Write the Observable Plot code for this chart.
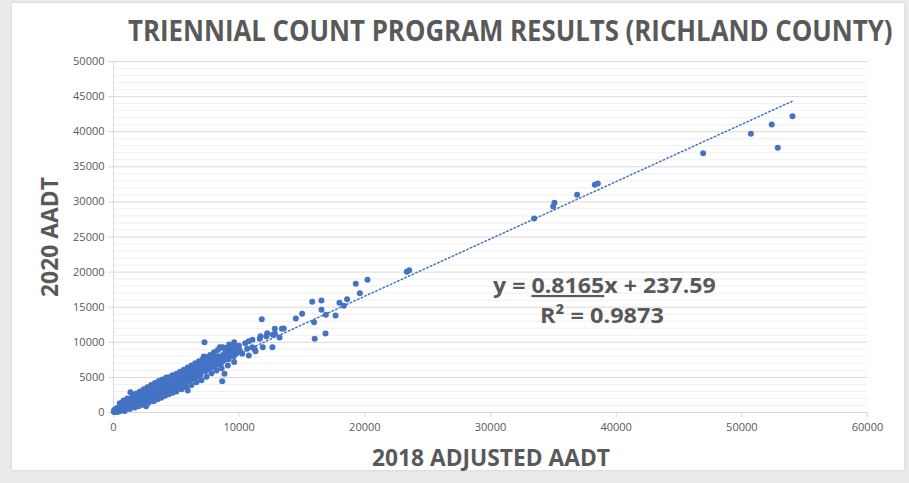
<!DOCTYPE html>
<html>
<head>
<meta charset="utf-8">
<script src="https://cdn.jsdelivr.net/npm/d3@7"></script>
<script src="https://cdn.jsdelivr.net/npm/@observablehq/plot@0.6"></script>
<style>
  html, body { margin: 0; padding: 0; width: 909px; height: 483px; overflow: hidden; background: #ebebeb; }
  #panel { position: absolute; left: 12px; top: 3px; width: 892px; height: 467px; background: #fff; box-shadow: 0 0 3px rgba(0,0,0,0.12); }
  #chart { position: absolute; left: 0; top: 0; }
  #overlay { position: absolute; left: 0; top: 0; pointer-events: none; }
  .bold { font-family: "Open Sans", "DejaVu Sans", sans-serif; font-weight: 700; fill: #595959; }
</style>
</head>
<body>
<div id="panel"></div>
<div id="chart"></div>
<svg id="overlay" width="909" height="483">
  <g id="gTitle"><text id="title" class="bold" font-size="29"></text></g>
  <g id="gY"><text id="ylabel" class="bold" font-size="24"></text></g>
  <g id="gX"><text id="xlabel" class="bold" font-size="24"></text></g>
  <g id="gEq1"><text id="eq1" class="bold" font-size="22"></text></g>
  <g id="gEq2"><text id="eq2" class="bold" font-size="22"></text></g>
</svg>
<script>
// ---- texts ----
const titleText = "TRIENNIAL COUNT PROGRAM RESULTS (RICHLAND COUNTY)";
const xTitle = "2018 ADJUSTED AADT";
const yTitle = "2020 AADT";
const slope = 0.8165;
const intercept = 237.59;
const rSquared = "0.9873";

// ---- tick labels ----
const xTicks = [0, 10000, 20000, 30000, 40000, 50000, 60000];
const yTicks = [0, 5000, 10000, 15000, 20000, 25000, 30000, 35000, 40000, 45000, 50000];
const yMinor = [1000,2000,3000,4000,6000,7000,8000,9000,11000,12000,13000,14000,16000,17000,18000,19000,21000,22000,23000,24000,26000,27000,28000,29000,31000,32000,33000,34000,36000,37000,38000,39000,41000,42000,43000,44000,46000,47000,48000,49000];

// ---- data: [2018 adjusted AADT, 2020 AADT] ----
const pointsLow0 = [[20,100],[60,350],[90,60],[120,250],[160,480],[200,150],[230,300],[270,620],[300,80],[340,400],[380,250],[420,700],[460,480],[500,180],[530,600],[570,900],[610,350],[650,720],[690,500],[730,1050],[770,640],[810,300],[850,880],[890,1200],[930,560],[970,950],[1010,1350],[1050,700],[1090,1000],[1130,1500],[1170,850],[1210,1200],[1250,1650],[1290,950],[1330,1300],[1350,2900],[1380,1800],[1420,1100],[1460,1450],[1500,1950],[1540,900],[1580,1300],[1620,1700],[1660,2200],[1700,1150],[1740,1550],[1780,2000],[1820,1300],[1860,1750],[1900,2400],[1940,1500],[1980,1850],[2020,2250],[2060,1300],[2100,1650],[2140,2050],[2180,2600],[2220,1550],[2260,1900],[2300,2300],[2340,1700],[2380,2800],[2420,2050],[2460,1450]];
const pointsLow1 = [[2500,2450],[2540,1850],[2600,900],[2620,2250],[2660,2950],[2700,2000],[2740,2600],[2780,1700],[2820,2350],[2860,3100],[2900,2100],[2940,2700],[2980,1900],[3020,2500],[3060,3300],[3100,2300],[3140,2850],[3180,2050],[3220,2650],[3260,3450],[3300,2450],[3340,3050],[3380,2200],[3420,2800],[3460,3600],[3500,2600],[3540,3200],[3580,2400],[3620,3000],[3660,3800],[3700,2750],[3740,3350],[3780,2550],[3820,3150],[3860,4000],[3900,2900],[3940,3500],[3980,2700],[4020,3300],[4060,4150],[4100,3050],[4140,3650],[4180,2850],[4220,3450],[4260,4300],[4300,3200],[4340,3800],[4380,3000],[4430,5030],[4460,3600],[4500,4450],[4540,3350],[4580,3950],[4620,3150],[4660,3750],[4700,4600],[4740,3500],[4780,4100],[4820,3300],[4860,3900],[4900,4750],[4950,3650]];
const pointsLow2 = [[5000,4250],[5050,3500],[5100,4000],[5150,4900],[5200,3800],[5250,4400],[5300,3650],[5350,4200],[5400,5050],[5450,3950],[5500,4550],[5550,5300],[5600,4100],[5650,4700],[5700,3900],[5750,5450],[5800,4400],[5850,5000],[5910,3130],[5950,5600],[6000,4600],[6050,5200],[6100,5900],[6150,4800],[6200,5400],[6250,6100],[6300,5000],[6350,5600],[6400,4750],[6450,6000],[6500,5300],[6550,5800],[6600,6400],[6650,5100],[6700,5600],[6750,6600],[6800,5500],[6850,6100],[6900,5300],[6950,6800],[7000,5800],[7050,6400],[7100,7000],[7150,6000],[7190,7980],[7240,10010],[7280,6600],[7330,5900],[7380,7200],[7430,6300],[7480,6900]];
const pointsLow3 = [[7550,6200],[7600,7400],[7650,6700],[7700,7100],[7760,6400],[7820,7600],[7880,6900],[7940,7300],[8000,6500],[8060,7800],[8120,7100],[8180,7500],[8240,6800],[8300,8000],[8360,7300],[8460,9300],[8500,7700],[8560,7000],[8620,9210],[8650,4460],[8700,8200],[8780,7400],[8830,5510],[8880,8500],[8950,7800],[9020,9200],[9080,8300],[9150,7600],[9220,8800],[9300,9400],[9360,8100],[9430,8600],[9500,9100],[9570,8000],[9640,8900],[9700,9400],[9780,8400],[9850,9000],[9920,8700],[9980,9500]];
const pointsLowUpper = [[500,1300],[800,1700],[1100,2000],[1500,2500],[1800,2700],[2100,3000],[2400,3300],[2700,3600],[3000,3900],[3300,4200],[3600,4500],[3900,4700],[4200,5000],[4700,5300],[5000,5500],[5300,5800],[5600,6100],[5900,6400],[6200,6700],[6500,7000],[6800,7300],[7100,7600],[7400,7900],[7700,8200],[8000,8600],[8300,8900],[8700,9300],[9200,9700],[9600,10000]];
const pointsLowLower = [[900,200],[1300,500],[1700,700],[2000,900],[2300,1100],[2800,1400],[3200,1600],[3500,1900],[3800,2100],[4100,2400],[4400,2600],[4700,2800],[5000,3000],[5400,3300],[5800,3600],[6200,3900],[6600,4300],[7000,4600],[7400,5100],[7800,5600],[8200,6000],[8600,6300],[9100,6700],[9600,7200]];
const pointsMid = [[10050,8830],[10240,8360],[10480,9870],[10640,9070],[10770,10160],[10770,8120],[11040,9300],[11060,10360],[11220,9070],[11300,8730],[11640,10500],[11700,10870],[11800,13290],[11880,9300],[12170,10830],[12230,11300],[12650,9300],[12680,11070],[12840,11920],[12840,11210],[13210,10680],[13400,11920],[13550,11970],[14510,13390],[15010,14060],[15810,15770],[15960,12870],[16010,10500],[16550,15950],[16550,14630],[16870,11250],[16900,13910],[17670,13820],[17980,15620],[18330,15190],[18590,16140],[19280,18330],[19600,17000],[20210,18900]];
const pointsHigh = [[23340,20040],[23530,20270],[33470,27640],[34990,29350],[35090,29870],[36890,31010],[38300,32440],[38540,32620],[46920,36940],[50720,39700],[52380,41030],[52860,37700],[54030,42210]];

const points = [...pointsLow0, ...pointsLow1, ...pointsLow2, ...pointsLow3, ...pointsLowUpper, ...pointsLowLower, ...pointsMid, ...pointsHigh]
  .map(([x, y]) => ({x, y}));

const xMin = d3.min(points, d => d.x), xMax = d3.max(points, d => d.x);
const trend = [xMin, xMax].map(x => ({x, y: slope * x + intercept}));

const blue = "#4472c4";
const chart = Plot.plot({
  width: 909,
  height: 483,
  marginLeft: 113,
  marginRight: 42,
  marginTop: 61,
  marginBottom: 71,
  style: {background: "transparent", fontFamily: "'Open Sans', sans-serif", fontSize: "11px", color: "#595959"},
  x: {domain: [0, 60000]},
  y: {domain: [0, 50000]},
  marks: [
    Plot.ruleY(yMinor, {stroke: "#f0f0f0", strokeWidth: 1}),
    Plot.ruleY(yTicks.slice(1), {stroke: "#d9d9d9", strokeWidth: 1}),
    Plot.ruleX([0], {stroke: "#d9d9d9"}),
    Plot.ruleY([0], {stroke: "#d9d9d9"}),
    Plot.axisX({ticks: xTicks, tickFormat: "d", tickSize: 5, tickPadding: 6, stroke: "#d9d9d9", fill: "#595959", label: null}),
    Plot.axisY({ticks: yTicks, tickFormat: "d", tickSize: 5, tickPadding: 4, stroke: "#d9d9d9", fill: "#595959", label: null}),
    Plot.dot(points, {x: "x", y: "y", r: 3, fill: blue, stroke: null}),
    Plot.line(trend, {x: "x", y: "y", stroke: blue, strokeWidth: 1.5, strokeDasharray: "1.5,2.5"})
  ]
});
document.getElementById("chart").appendChild(chart);

document.getElementById("title").textContent = titleText;
document.getElementById("xlabel").textContent = xTitle;
document.getElementById("ylabel").textContent = yTitle;
const fmtSlope = slope.toFixed(4), fmtInt = intercept.toFixed(2);
document.getElementById("eq1").innerHTML = `<tspan>y = </tspan><tspan style="text-decoration:underline">${fmtSlope}</tspan><tspan>x + ${fmtInt}</tspan>`;
document.getElementById("eq2").textContent = `R² = ${rSquared}`;

// fit each text to its measured extent in the reference by horizontal scaling
function fit(id, gid, targetLen, x, y, rotate, anchorMiddle) {
  const t = document.getElementById(id);
  const len = t.getComputedTextLength();
  const s = targetLen / len;
  if (anchorMiddle) t.setAttribute("text-anchor", "middle");
  document.getElementById(gid).setAttribute("transform",
    `translate(${x},${y})${rotate ? " rotate(-90)" : ""} scale(${s},1)`);
}
fit("title", "gTitle", 765, 128, 41, false, false);
fit("ylabel", "gY", 120, 58, 237, true, true);
fit("xlabel", "gX", 238, 491, 466, false, true);
fit("eq1", "gEq1", 223, 493, 293, false, false);
fit("eq2", "gEq2", 124, 540, 323, false, false);
</script>
</body>
</html>
